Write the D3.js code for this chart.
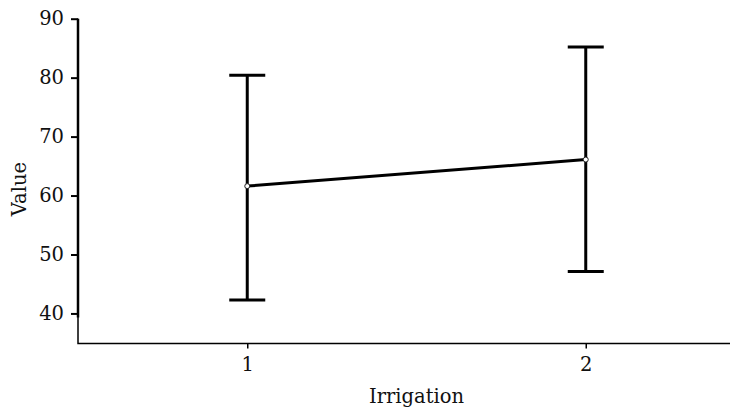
<!DOCTYPE html>
<html>
<head>
<meta charset="utf-8">
<script src="https://cdn.jsdelivr.net/npm/d3@7"></script>
<style>
  html, body { margin: 0; padding: 0; background: #fff; }
  svg text { font-family: "DejaVu Serif", "Liberation Serif", serif; fill: #111; }
</style>
</head>
<body>
<svg id="chart"></svg>
<script>
const WIDTH = 730;
const HEIGHT = 412;
const FONT = "DejaVu Serif, Liberation Serif, serif";
const FONT_SIZE = 19.5;

// chart values
const categories = [1, 2];
const means = [61.6, 66.1];
const upper = [80.4, 85.2];
const lower = [42.3, 47.1];
const yTicks = [40, 50, 60, 70, 80, 90];
const xLabel = "Irrigation";
const yLabel = "Value";

const PLOT_LEFT = 78, PLOT_RIGHT = 755, PLOT_TOP = 18.7, PLOT_BOTTOM = 343.5;

const x = d3.scaleLinear().domain([0.5, 2.5]).range([PLOT_LEFT, PLOT_RIGHT]);
const y = d3.scaleLinear().domain([34.9, 90]).range([PLOT_BOTTOM, PLOT_TOP]);

const svg = d3.select("#chart").attr("width", WIDTH).attr("height", HEIGHT);

// thin L-shaped frame
svg.append("path")
   .attr("d", `M${PLOT_LEFT},${PLOT_TOP}V${PLOT_BOTTOM}H${WIDTH}`)
   .attr("fill", "none")
   .attr("stroke", "#000")
   .attr("stroke-width", 1.5);

// y axis
const gy = svg.append("g")
   .attr("transform", `translate(${PLOT_LEFT},0)`)
   .call(d3.axisLeft(y).tickValues(yTicks).tickSize(7).tickPadding(7).tickSizeOuter(0))
   .attr("font-family", FONT)
   .attr("font-size", FONT_SIZE);
gy.select(".domain").attr("d", `M0,${y(90)}V${y(39.3)}`).attr("stroke-width", 2.5);
gy.selectAll(".tick line").attr("stroke-width", 2);
gy.selectAll(".tick text").attr("fill", "#111");

// x axis
const gx = svg.append("g")
   .attr("transform", `translate(0,${PLOT_BOTTOM})`)
   .call(d3.axisBottom(x).tickValues(categories).tickFormat(d3.format("d")).tickSize(5).tickPadding(9))
   .attr("font-family", FONT)
   .attr("font-size", FONT_SIZE);
gx.select(".domain").remove();
gx.selectAll(".tick line").attr("stroke-width", 1.5);
gx.selectAll(".tick text").attr("fill", "#111");

// axis titles
svg.append("text")
   .attr("x", (PLOT_LEFT + PLOT_RIGHT) / 2)
   .attr("y", 403)
   .attr("text-anchor", "middle")
   .attr("font-size", FONT_SIZE)
   .text(xLabel);

svg.append("text")
   .attr("transform", `translate(26,${(PLOT_TOP + PLOT_BOTTOM) / 2 + 8}) rotate(-90)`)
   .attr("text-anchor", "middle")
   .attr("font-size", FONT_SIZE)
   .text(yLabel);

// error bars
const CAP = 18;
const bars = svg.append("g").attr("stroke", "#000").attr("stroke-width", 3).attr("fill", "none");
categories.forEach((c, i) => {
   bars.append("line")
      .attr("x1", x(c)).attr("x2", x(c))
      .attr("y1", y(upper[i])).attr("y2", y(lower[i]));
   bars.append("line")
      .attr("x1", x(c) - CAP).attr("x2", x(c) + CAP)
      .attr("y1", y(upper[i])).attr("y2", y(upper[i]));
   bars.append("line")
      .attr("x1", x(c) - CAP).attr("x2", x(c) + CAP)
      .attr("y1", y(lower[i])).attr("y2", y(lower[i]));
});

// mean line
svg.append("path")
   .datum(categories.map((c, i) => [c, means[i]]))
   .attr("fill", "none")
   .attr("stroke", "#000")
   .attr("stroke-width", 3)
   .attr("d", d3.line().x(d => x(d[0])).y(d => y(d[1])));

svg.append("g")
   .selectAll("circle")
   .data(categories.map((c, i) => [c, means[i]]))
   .join("circle")
   .attr("cx", d => x(d[0]))
   .attr("cy", d => y(d[1]))
   .attr("r", 2.5)
   .attr("fill", "#fff")
   .attr("stroke", "#222")
   .attr("stroke-width", 1);
</script>
</body>
</html>
